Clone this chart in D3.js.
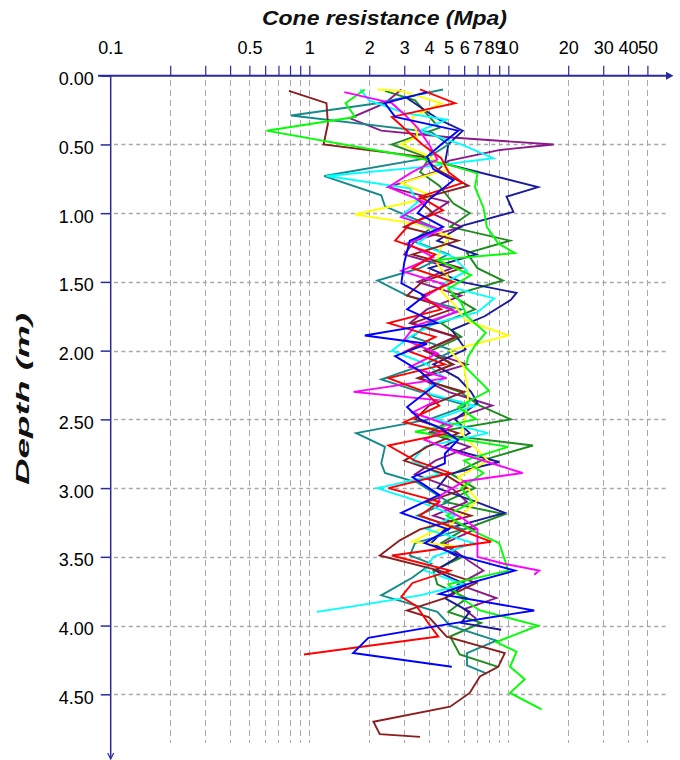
<!DOCTYPE html>
<html>
<head>
<meta charset="utf-8">
<script src="https://cdn.jsdelivr.net/npm/d3@7/dist/d3.min.js"></script>
<style>
  html, body { margin: 0; padding: 0; background: #fff; }
  svg { display: block; }
  text { font-family: "Liberation Sans", Arial, sans-serif; }
</style>
</head>
<body>
<svg id="chart" width="680" height="760"></svg>
<script>
// Cone penetration profiles: each point is [depth (m), cone resistance qc (MPa)]
const cptMaroon = [[0.11,0.79],[0.20,1.22],[0.35,1.24],[0.50,1.18],[0.59,3.7],[0.70,4.6],[0.80,6.3],[0.90,3.5],[1.00,4.2],[1.10,3.0],[1.20,5.6],[1.30,3.3],[1.40,5.8],[1.50,3.7],[1.60,3.1],[1.70,5.2],[1.80,3.3],[1.90,5.5],[2.00,3.8],[2.10,5.3],[2.20,3.5],[2.30,6.0],[2.40,4.0],[2.50,3.4],[2.60,5.6],[2.70,3.9],[2.80,3.0],[2.90,4.8],[3.00,6.2],[3.10,3.9],[3.20,6.5],[3.30,3.6],[3.38,2.85],[3.49,2.26],[3.60,4.5],[3.69,6.9],[3.80,4.8],[3.89,3.1],[3.94,4.0],[4.08,4.9],[4.20,9.6],[4.30,8.9],[4.37,7.2],[4.49,6.4],[4.59,5.1],[4.70,2.1],[4.79,2.26],[4.81,3.6]];
const cptTeal = [[0.10,4.7],[0.20,2.2],[0.29,0.81],[0.41,4.1],[0.50,5.0],[0.60,3.9],[0.73,1.19],[0.87,2.3],[0.95,2.4],[1.10,4.2],[1.20,3.3],[1.30,5.0],[1.40,3.6],[1.49,2.2],[1.60,3.1],[1.70,5.8],[1.80,4.0],[1.90,3.3],[2.00,5.3],[2.10,3.8],[2.21,2.3],[2.30,3.6],[2.40,6.2],[2.50,4.0],[2.60,1.72],[2.70,2.4],[2.82,2.3],[2.89,2.4],[2.96,3.5],[3.10,5.0],[3.20,3.5],[3.30,5.9],[3.40,3.4],[3.49,3.2],[3.55,4.1],[3.65,3.3],[3.78,2.3],[3.90,4.4],[4.00,5.1],[4.11,8.7],[4.20,6.2],[4.29,6.2],[4.35,7.8]];
const cptLime = [[0.10,1.9],[0.20,1.52],[0.30,1.7],[0.40,0.61],[0.59,3.3],[0.65,5.1],[0.71,7.0],[0.81,6.8],[0.96,7.5],[1.10,7.8],[1.22,8.9],[1.29,10.8],[1.34,4.4],[1.45,6.5],[1.55,5.0],[1.65,5.8],[1.75,6.2],[1.87,7.7],[1.95,6.9],[2.04,6.3],[2.12,6.1],[2.29,8.0],[2.41,5.6],[2.50,6.9],[2.59,3.4],[2.70,10.0],[2.80,6.0],[2.89,7.5],[3.00,5.8],[3.10,6.6],[3.20,4.9],[3.30,6.4],[3.40,9.0],[3.60,10.0],[3.70,5.0],[3.80,5.8],[3.89,7.2],[4.00,14.1],[4.12,8.7],[4.19,11.0],[4.30,10.2],[4.39,12.1],[4.49,10.2],[4.61,14.7]];
const cptPurple = [[0.10,2.9],[0.20,2.4],[0.31,1.6],[0.40,2.3],[0.45,5.2],[0.50,16.9],[0.54,9.1],[0.62,5.0],[0.70,4.3],[0.81,2.5],[0.92,5.0],[1.00,4.1],[1.10,5.8],[1.20,3.4],[1.30,3.0],[1.40,5.2],[1.50,3.5],[1.60,5.8],[1.70,3.9],[1.80,3.2],[1.90,5.4],[2.00,3.8],[2.10,6.2],[2.20,3.6],[2.30,5.0],[2.40,8.3],[2.50,5.2],[2.60,4.0],[2.70,6.4],[2.80,4.3],[2.90,3.4],[3.00,5.2],[3.10,6.2],[3.20,4.2],[3.30,6.8],[3.40,4.8],[3.50,5.9],[3.60,7.5],[3.70,5.6],[3.80,8.7],[3.88,6.0],[3.95,6.9]];
const cptNavy = [[0.15,3.0],[0.25,3.8],[0.32,4.5],[0.40,5.9],[0.50,5.0],[0.64,4.8],[0.81,14.1],[0.88,9.8],[0.99,10.6],[1.09,5.9],[1.20,4.4],[1.30,6.9],[1.40,4.0],[1.50,5.8],[1.58,11.0],[1.63,10.3],[1.75,7.6],[1.85,5.2],[1.99,6.1],[2.10,4.2],[2.20,5.6],[2.30,6.5],[2.38,7.0],[2.50,5.4],[2.60,6.4],[2.70,4.7],[2.81,9.0],[2.90,5.0],[3.00,4.4],[3.10,6.9],[3.18,9.6],[3.30,4.8],[3.40,4.1],[3.50,5.6],[3.60,4.3],[3.70,6.1],[3.80,4.8],[3.90,6.4],[3.98,5.8],[4.03,9.2]];
const cptBlue = [[0.12,3.9],[0.20,2.4],[0.30,2.7],[0.40,5.6],[0.50,4.6],[0.59,3.9],[0.68,4.2],[0.76,5.3],[0.90,4.0],[1.00,3.5],[1.10,4.7],[1.20,3.2],[1.36,3.0],[1.51,2.9],[1.60,3.8],[1.70,3.1],[1.80,4.4],[1.89,1.9],[1.95,3.9],[2.04,2.7],[2.15,3.6],[2.25,4.3],[2.41,3.1],[2.50,3.6],[2.56,4.5],[2.65,5.6],[2.75,4.8],[2.82,4.8],[2.92,3.3],[3.05,4.5],[3.18,2.9],[3.30,5.0],[3.40,3.8],[3.50,6.0],[3.60,10.8],[3.68,6.8],[3.77,4.5],[3.89,13.5],[4.00,4.5],[4.09,1.98],[4.20,1.66],[4.30,5.2]];
const cptCyan = [[0.10,1.8],[0.18,2.0],[0.27,3.0],[0.32,4.9],[0.40,3.6],[0.50,5.8],[0.60,8.4],[0.66,4.0],[0.73,1.22],[0.82,3.2],[0.92,3.5],[1.02,2.9],[1.12,4.3],[1.22,3.5],[1.32,5.3],[1.42,6.2],[1.52,4.6],[1.62,8.5],[1.72,7.0],[1.80,4.3],[1.90,3.2],[2.00,2.6],[2.10,3.9],[2.20,4.8],[2.30,3.7],[2.40,6.8],[2.50,4.3],[2.60,7.9],[2.70,3.8],[2.80,3.3],[2.90,4.5],[3.00,2.2],[3.10,3.6],[3.20,5.4],[3.30,3.9],[3.40,6.7],[3.50,4.2],[3.60,3.8],[3.70,6.0],[3.78,3.6],[3.86,1.65],[3.90,1.09]];
const cptMagenta = [[0.12,1.5],[0.20,2.6],[0.28,3.0],[0.38,3.5],[0.50,4.0],[0.61,4.4],[0.70,3.3],[0.81,2.5],[0.92,3.8],[1.03,2.9],[1.12,4.6],[1.22,3.1],[1.32,4.2],[1.42,2.9],[1.52,4.8],[1.62,3.7],[1.72,5.5],[1.82,3.4],[1.92,3.0],[2.02,4.4],[2.12,3.2],[2.20,4.9],[2.30,1.67],[2.36,4.4],[2.45,3.3],[2.55,5.2],[2.65,3.8],[2.75,5.8],[2.89,11.8],[2.95,6.0],[3.05,4.6],[3.12,4.4],[3.22,5.9],[3.30,7.0],[3.50,7.0],[3.55,9.5],[3.60,14.3],[3.63,13.5]];
const cptYellow = [[0.10,2.2],[0.11,2.9],[0.20,4.6],[0.30,3.3],[0.44,3.5],[0.50,2.9],[0.58,3.9],[0.68,5.0],[0.78,2.9],[0.88,4.2],[1.01,1.7],[1.08,3.5],[1.17,5.1],[1.27,4.5],[1.37,4.4],[1.47,5.0],[1.57,4.6],[1.67,5.4],[1.78,6.1],[1.89,10.0],[2.00,5.1],[2.12,6.0],[2.31,6.3],[2.48,6.1],[2.60,5.8],[2.80,7.9],[2.92,5.6],[3.09,7.0],[3.28,5.0],[3.33,4.0],[3.39,3.3],[3.42,5.3]];
const cptRed = [[0.10,3.6],[0.20,5.4],[0.30,2.6],[0.40,3.1],[0.50,3.7],[0.60,4.6],[0.70,5.0],[0.78,5.9],[0.88,3.6],[0.98,4.7],[1.08,3.2],[1.20,2.7],[1.30,4.3],[1.40,3.3],[1.50,5.3],[1.60,3.7],[1.70,4.6],[1.80,2.5],[1.90,4.3],[2.00,3.1],[2.10,4.8],[2.20,2.5],[2.30,3.8],[2.40,4.5],[2.52,3.0],[2.60,5.0],[2.69,2.5],[2.80,3.4],[2.89,5.1],[3.00,2.5],[3.10,4.5],[3.20,3.6],[3.30,5.6],[3.39,8.2],[3.49,2.6],[3.60,5.1],[3.69,3.3],[3.79,2.9],[3.86,3.46],[3.99,4.0],[4.08,4.45],[4.21,0.94]];
const cptGreen = [[0.11,2.4],[0.18,3.4],[0.28,3.9],[0.38,4.5],[0.50,2.6],[0.60,4.0],[0.70,3.6],[0.80,4.5],[0.93,5.3],[1.00,6.4],[1.10,5.1],[1.20,10.2],[1.29,6.2],[1.40,7.0],[1.49,9.4],[1.60,5.2],[1.70,6.8],[1.80,4.6],[1.90,5.8],[2.00,4.1],[2.10,5.2],[2.20,3.6],[2.30,5.7],[2.40,7.2],[2.50,10.3],[2.60,4.0],[2.69,13.3],[2.80,7.3],[2.90,5.2],[3.00,6.8],[3.10,4.8],[3.19,9.6],[3.30,6.0],[3.40,4.6],[3.50,5.9],[3.60,4.2],[3.70,4.4],[3.80,6.2],[3.90,5.0],[3.98,7.3],[4.08,5.1],[4.21,5.7],[4.30,8.9]];

const profiles = [
  { data: cptGreen,   color: "#1c8c1c" },
  { data: cptPurple,  color: "#8a1a8a" },
  { data: cptNavy,    color: "#1a1a9a" },
  { data: cptTeal,    color: "#168a8a" },
  { data: cptYellow,  color: "#ffff00" },
  { data: cptCyan,    color: "#00ffff" },
  { data: cptMaroon,  color: "#8b1e1e" },
  { data: cptLime,    color: "#00ff00" },
  { data: cptMagenta, color: "#ff00ff" },
  { data: cptRed,     color: "#ff0000" },
  { data: cptBlue,    color: "#0000ff" }
];

// Axis ticks and labels
const qcTicks = [0.1,0.2,0.3,0.4,0.5,0.6,0.7,0.8,0.9,1,2,3,4,5,6,7,8,9,10,20,30,40,50];
const qcLabels = [0.1,0.5,1,2,3,4,5,6,7,8,9,10,20,30,40,50];
const depthTicks = [0,0.5,1,1.5,2,2.5,3,3.5,4,4.5];

const axisColor = "#2a2a9e";
const svg = d3.select("#chart");

const x = d3.scaleLog().domain([0.1, 100]).range([110.3, 707.3]);
const y = d3.scaleLinear().domain([0, 4.5]).range([75.7, 694.3]);

// Grid
const grid = svg.append("g");
grid.selectAll("line.v").data(qcTicks.filter(v => v > 0.1)).join("line")
  .attr("x1", d => Math.round(x(d)) + 0.5).attr("x2", d => Math.round(x(d)) + 0.5)
  .attr("y1", 80).attr("y2", 743)
  .attr("stroke", "#a8a8a8").attr("stroke-width", 1).attr("stroke-dasharray", "6,4");
grid.selectAll("line.h").data(depthTicks.filter(v => v > 0)).join("line")
  .attr("x1", 114).attr("x2", 668)
  .attr("y1", d => Math.round(y(d)) + 0.5).attr("y2", d => Math.round(y(d)) + 0.5)
  .attr("stroke", "#a8a8a8").attr("stroke-width", 1.5).attr("stroke-dasharray", "4,3.4");

// Profiles
const line = d3.line().x(d => x(d[1])).y(d => y(d[0]));
svg.append("g").selectAll("path").data(profiles).join("path")
  .attr("d", p => line(p.data))
  .attr("fill", "none")
  .attr("stroke", p => p.color)
  .attr("stroke-width", 1.9)
  .attr("stroke-linejoin", "miter");

// Top axis (cone resistance)
const topAxis = svg.append("g").attr("transform", "translate(0,75.7)")
  .call(d3.axisTop(x).tickValues(qcTicks).tickSize(10).tickPadding(12)
    .tickFormat(d => qcLabels.includes(d) ? String(d) : ""));
topAxis.select(".domain").remove();
topAxis.selectAll(".tick line").attr("stroke", axisColor).attr("stroke-width", 1.2)
  .filter(d => d === 0.1).remove();
topAxis.selectAll(".tick text").attr("fill", "#000")
  .style("font-size", "18px").style("font-family", "'Liberation Sans', Arial, sans-serif");
svg.append("line").attr("x1", 98).attr("x2", 670).attr("y1", 75.7).attr("y2", 75.7)
  .attr("stroke", axisColor).attr("stroke-width", 2);
svg.append("path").attr("d", "M666,71.7 L673.5,75.7 L666,79.7 Z").attr("fill", axisColor);

// Left axis (depth)
const leftAxis = svg.append("g").attr("transform", "translate(110.7,0)")
  .call(d3.axisLeft(y).tickValues(depthTicks).tickSize(10).tickPadding(7)
    .tickFormat(d3.format(".2f")));
leftAxis.select(".domain").remove();
leftAxis.selectAll(".tick line").attr("stroke", axisColor).attr("stroke-width", 1.5);
leftAxis.selectAll(".tick text").attr("fill", "#000").attr("dy", "0.5em")
  .style("font-size", "18px").style("font-family", "'Liberation Sans', Arial, sans-serif");
svg.append("line").attr("x1", 110.7).attr("x2", 110.7).attr("y1", 75.7).attr("y2", 758)
  .attr("stroke", axisColor).attr("stroke-width", 1.5);
svg.append("path").attr("d", "M107.7,753 L110.7,759 L113.7,753").attr("fill", "none")
  .attr("stroke", axisColor).attr("stroke-width", 1.2);

// Axis titles
svg.append("text").attr("x", 262).attr("y", 25)
  .attr("textLength", 245).attr("lengthAdjust", "spacingAndGlyphs")
  .style("font-size", "20px").style("font-style", "italic").style("font-weight", "bold")
  .attr("fill", "#111").text("Cone resistance (Mpa)");
svg.append("text").attr("transform", "translate(29,485) rotate(-90)")
  .attr("textLength", 172).attr("lengthAdjust", "spacingAndGlyphs")
  .style("font-size", "18px").style("font-style", "italic").style("font-weight", "bold")
  .attr("fill", "#111").text("Depth (m)");
</script>
</body>
</html>
